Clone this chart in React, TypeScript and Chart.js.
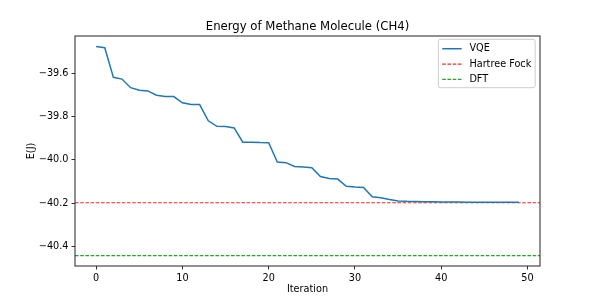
import React, { useEffect, useRef } from "react";
import { Chart, registerables } from "chart.js";

Chart.register(...registerables);

const iterations = [
  0, 1, 2, 3, 4, 5, 6, 7, 8, 9, 10, 11, 12, 13, 14, 15, 16, 17, 18, 19, 20, 21, 22, 23, 24,
  25, 26, 27, 28, 29, 30, 31, 32, 33, 34, 35, 36, 37, 38, 39, 40, 41, 42, 43, 44, 45, 46, 47, 48, 49,
];
const vqeEnergy = [
  -39.475, -39.481, -39.618, -39.626, -39.666, -39.678, -39.681, -39.701, -39.707, -39.707,
  -39.736, -39.744, -39.744, -39.819, -39.845, -39.846, -39.852, -39.918, -39.918, -39.92,
  -39.921, -40.01, -40.013, -40.031, -40.033, -40.036, -40.077, -40.086, -40.089, -40.122,
  -40.126, -40.128, -40.171, -40.175, -40.184, -40.19, -40.192, -40.193, -40.194, -40.194,
  -40.195, -40.195, -40.195, -40.196, -40.196, -40.196, -40.196, -40.196, -40.196, -40.196,
];
const hartreeFockEnergy = -40.1985;
const dftEnergy = -40.443;
const xTickValues = [0, 10, 20, 30, 40, 50];
const yTickValues = [-40.4, -40.2, -40.0, -39.8, -39.6];
const chartTitle = "Energy of Methane Molecule (CH4)";
const xAxisLabel = "Iteration";
const yAxisLabel = "E(J)";
const legendLabels = ["VQE", "Hartree Fock", "DFT"];
const seriesColors = ["#1f77b4", "#f22a2a", "#26a626"];

const FONT = '"DejaVu Sans", sans-serif';
const TICK_SIZE = 9.7;
const TITLE_SIZE = 11.7;
const DASH = [3.6, 1.6];
const DASH_WIDTH = 1.2;

function limits(values: number[]) {
  const lo = Math.min(...values);
  const hi = Math.max(...values);
  const pad = (hi - lo) * 0.05;
  return [lo - pad, hi + pad];
}

export default function App() {
  const ref = useRef<HTMLCanvasElement | null>(null);

  useEffect(() => {
    if (!ref.current) return;
    const [xMin, xMax] = limits(iterations);
    const [yMin, yMax] = limits([...vqeEnergy, hartreeFockEnergy, dftEnergy]);

    const decor = {
      id: "decor",
      afterDraw(chart: any) {
        const { ctx, chartArea } = chart;
        const { left, right, top, bottom } = chartArea;
        ctx.save();
        // spines
        ctx.strokeStyle = "#222";
        ctx.lineWidth = 1;
        ctx.strokeRect(left, top, right - left, bottom - top);
        // title
        ctx.fillStyle = "#000";
        ctx.font = `${TITLE_SIZE}px ${FONT}`;
        ctx.textAlign = "center";
        ctx.textBaseline = "alphabetic";
        ctx.fillText(chartTitle, (left + right) / 2, 30);
        // x label
        ctx.font = `${TICK_SIZE}px ${FONT}`;
        ctx.fillText(xAxisLabel, (left + right) / 2, 292);
        // y label
        ctx.save();
        ctx.translate(34, (top + bottom) / 2);
        ctx.rotate(-Math.PI / 2);
        ctx.fillText(yAxisLabel, 0, 0);
        ctx.restore();
        // legend
        const f = TICK_SIZE;
        ctx.font = `${f}px ${FONT}`;
        const textW = Math.max(...legendLabels.map((t) => ctx.measureText(t).width));
        const borderPad = 0.4 * f;
        const handleLen = 2 * f;
        const handlePad = 0.8 * f;
        const rowGap = 15.3;
        const boxW = 2 * borderPad + handleLen + handlePad + textW;
        const boxH = 2 * borderPad + 10 + rowGap * 2;
        const bx = right - 0.5 * f - boxW;
        const by = top + 0.5 * f - 1.5;
        ctx.beginPath();
        const r = 2;
        ctx.moveTo(bx + r, by);
        ctx.arcTo(bx + boxW, by, bx + boxW, by + boxH, r);
        ctx.arcTo(bx + boxW, by + boxH, bx, by + boxH, r);
        ctx.arcTo(bx, by + boxH, bx, by, r);
        ctx.arcTo(bx, by, bx + boxW, by, r);
        ctx.closePath();
        ctx.fillStyle = "rgba(255,255,255,0.8)";
        ctx.fill();
        ctx.strokeStyle = "#cccccc";
        ctx.lineWidth = 1;
        ctx.stroke();
        legendLabels.forEach((label, i) => {
          const cy = by + borderPad + 5.5 + i * rowGap;
          const hx = bx + borderPad;
          ctx.beginPath();
          ctx.strokeStyle = seriesColors[i];
          ctx.lineWidth = i === 0 ? 1.5 : DASH_WIDTH;
          ctx.setLineDash(i === 0 ? [] : DASH);
          ctx.moveTo(hx, cy);
          ctx.lineTo(hx + handleLen, cy);
          ctx.stroke();
          ctx.setLineDash([]);
          ctx.fillStyle = "#000";
          ctx.textAlign = "left";
          ctx.textBaseline = "middle";
          ctx.fillText(label, hx + handleLen + handlePad, cy);
        });
        ctx.restore();
      },
    };

    const tickFont = { family: FONT, size: TICK_SIZE };
    const chart = new Chart(ref.current, {
      type: "line",
      data: {
        datasets: [
          {
            label: legendLabels[0],
            data: iterations.map((x, i) => ({ x, y: vqeEnergy[i] })),
            borderColor: seriesColors[0],
            borderWidth: 1.5,
            pointRadius: 0,
            tension: 0,
          },
          {
            label: legendLabels[1],
            data: [
              { x: xMin, y: hartreeFockEnergy },
              { x: xMax, y: hartreeFockEnergy },
            ],
            borderColor: seriesColors[1],
            borderWidth: DASH_WIDTH,
            borderDash: DASH,
            pointRadius: 0,
          },
          {
            label: legendLabels[2],
            data: [
              { x: xMin, y: dftEnergy },
              { x: xMax, y: dftEnergy },
            ],
            borderColor: seriesColors[2],
            borderWidth: DASH_WIDTH,
            borderDash: DASH,
            pointRadius: 0,
          },
        ],
      },
      options: {
        responsive: false,
        animation: false,
        devicePixelRatio: 1,
        layout: { padding: { top: 36, right: 60, left: 0, bottom: 0 } },
        plugins: {
          legend: { display: false },
          title: { display: false },
          tooltip: { enabled: false },
        },
        scales: {
          x: {
            type: "linear",
            min: xMin,
            max: xMax,
            afterBuildTicks: (s: any) => {
              s.ticks = xTickValues.map((v) => ({ value: v }));
            },
            afterFit: (s: any) => {
              s.height = 34;
            },
            grid: {
              display: true,
              drawOnChartArea: false,
              drawTicks: true,
              tickLength: 3.5,
              color: "#333",
            },
            border: { display: false },
            ticks: {
              font: tickFont,
              color: "#000",
              padding: 3,
              maxRotation: 0,
              autoSkip: false,
              callback: (v: any) => String(v),
            },
          },
          y: {
            type: "linear",
            min: yMin,
            max: yMax,
            afterBuildTicks: (s: any) => {
              s.ticks = yTickValues.map((v) => ({ value: v }));
            },
            afterFit: (s: any) => {
              s.width = 75;
            },
            grid: {
              display: true,
              drawOnChartArea: false,
              drawTicks: true,
              tickLength: 3.5,
              color: "#333",
            },
            border: { display: false },
            ticks: {
              font: tickFont,
              color: "#000",
              padding: 3,
              autoSkip: false,
              callback: (v: any) => Number(v).toFixed(1).replace("-", "\u2212"),
            },
          },
        },
      },
      plugins: [decor],
    });
    return () => chart.destroy();
  }, []);

  return (
    <div style={{ position: "fixed", left: 0, top: 0, width: 600, height: 300, background: "#fff" }}>
      <canvas ref={ref} width={600} height={300} style={{ display: "block" }} />
    </div>
  );
}
